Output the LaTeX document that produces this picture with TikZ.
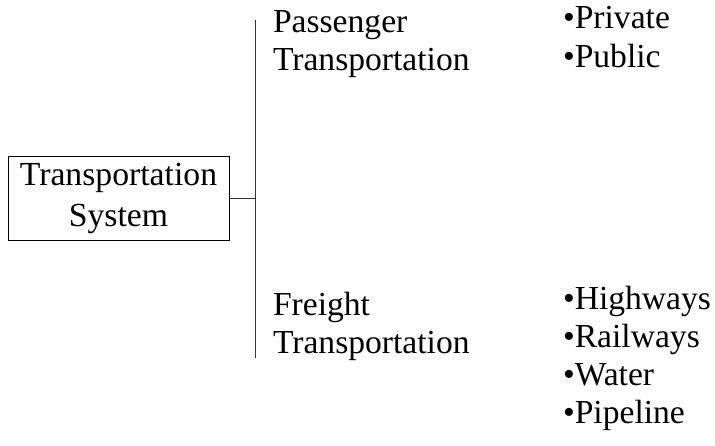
\documentclass[tikz,border=0pt]{standalone}
\usepackage{fontspec}
\setmainfont{Liberation Serif}
\begin{document}
\begin{tikzpicture}[x=1pt,y=-1pt,
  lbl/.style={inner sep=0pt,outer sep=0pt,align=left,anchor=base west,font=\fontsize{33.6}{37.5}\selectfont},
  lst/.style={inner sep=0pt,outer sep=0pt,align=left,anchor=base west,font=\fontsize{33.6}{38}\selectfont},
  conn/.style={line width=0.9pt,draw=black!80}]
\useasboundingbox (0,0) rectangle (715,445);
\node[draw,line width=1pt,minimum width=221pt,minimum height=84pt,inner sep=0pt,align=center,
  font=\fontsize{33.7}{41}\selectfont] (sys) at (118.5,198) {Transportation\\System};
\coordinate (top) at (255,20);
\coordinate (bot) at (255,358);
\coordinate (mid) at (255,198);
\draw[conn] (top) -- (bot);
\draw[conn] (sys.east) -- (mid);
\node[lbl] (pass) at (273,70) {Passenger\\Transportation};
\node[lbl] (frt) at (273,353) {Freight\\Transportation};
\node[lst, font=\fontsize{33.6}{39}\selectfont] (plist) at (563,67) {•Private\\•Public};
\node[lst] (flist) at (563,423) {•Highways\\•Railways\\•Water\\•Pipeline};
\end{tikzpicture}
\end{document}
